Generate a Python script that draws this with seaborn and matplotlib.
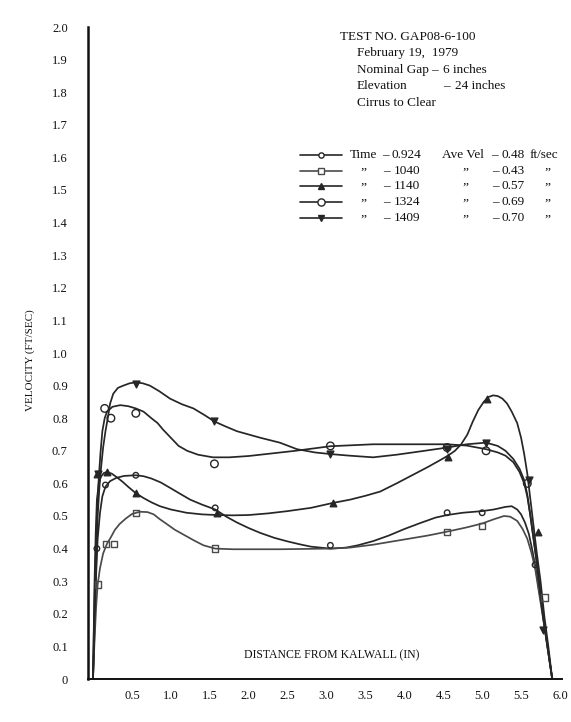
import matplotlib
matplotlib.use("Agg")
import matplotlib.pyplot as plt
import seaborn as sns
import pandas as pd
from matplotlib.lines import Line2D

# ---- test runs -------------------------------------------------------------
times = ["0.924", "1040", "1140", "1324", "1409"]
ave_vel = ["0.48", "0.43", "0.57", "0.69", "0.70"]

# faired velocity profiles across the gap (distance in, velocity ft/sec)
dist_0924 = [0.0, 0.02, 0.04, 0.06, 0.09, 0.12, 0.16, 0.22, 0.30, 0.40, 0.55, 0.65, 0.75,
             0.87, 1.0, 1.12, 1.25, 1.40, 1.57, 1.72, 1.85, 2.0, 2.15, 2.33, 2.5, 2.66, 2.8,
             3.05, 3.25, 3.4, 3.6, 3.8, 4.0, 4.2, 4.4, 4.55, 4.75, 5.0, 5.15, 5.3, 5.38,
             5.45, 5.5, 5.55, 5.6, 5.64, 5.68, 5.72, 5.76, 5.8, 5.85, 5.9]
vel_0924 = [0.0, 0.15, 0.32, 0.43, 0.51, 0.56, 0.59, 0.607, 0.617, 0.623, 0.625, 0.622,
            0.615, 0.603, 0.585, 0.568, 0.55, 0.535, 0.52, 0.497, 0.48, 0.463, 0.448, 0.433,
            0.422, 0.413, 0.406, 0.40, 0.403, 0.41, 0.423, 0.44, 0.46, 0.478, 0.495, 0.503,
            0.51, 0.515, 0.52, 0.528, 0.53, 0.52, 0.505, 0.48, 0.445, 0.40, 0.35, 0.29, 0.23,
            0.16, 0.08, 0.0]

dist_1040 = [0.0, 0.02, 0.04, 0.06, 0.09, 0.13, 0.18, 0.23, 0.28, 0.34, 0.42, 0.50, 0.60,
             0.70, 0.78, 0.86, 0.95, 1.05, 1.17, 1.29, 1.42, 1.57, 1.8, 2.4, 3.05, 3.3, 3.6,
             4.0, 4.3, 4.55, 4.8, 5.0, 5.15, 5.28, 5.36, 5.45, 5.52, 5.58, 5.63, 5.68, 5.72,
             5.76, 5.8, 5.85, 5.9]
vel_1040 = [0.0, 0.12, 0.22, 0.29, 0.34, 0.385, 0.415, 0.435, 0.457, 0.475, 0.492, 0.506,
            0.513, 0.512, 0.505, 0.49, 0.475, 0.458, 0.442, 0.426, 0.41, 0.40, 0.398, 0.398,
            0.40, 0.403, 0.412, 0.428, 0.44, 0.452, 0.465, 0.477, 0.49, 0.50, 0.498, 0.485,
            0.46, 0.43, 0.39, 0.34, 0.28, 0.22, 0.16, 0.08, 0.0]

dist_1140 = [0.0, 0.01, 0.02, 0.035, 0.05, 0.075, 0.10, 0.14, 0.18, 0.24, 0.30, 0.38, 0.45,
             0.55, 0.65, 0.75, 0.86, 1.0, 1.2, 1.4, 1.59, 1.8, 2.0, 2.25, 2.5, 2.8, 3.08,
             3.3, 3.5, 3.69, 3.9, 4.1, 4.3, 4.45, 4.56, 4.65, 4.73, 4.81, 4.88, 4.95, 5.02,
             5.08, 5.14, 5.2, 5.26, 5.32, 5.38, 5.45, 5.5, 5.54, 5.58, 5.62, 5.66, 5.7, 5.75,
             5.8, 5.85, 5.9]
vel_1140 = [0.0, 0.15, 0.30, 0.45, 0.55, 0.60, 0.62, 0.632, 0.635, 0.63, 0.62, 0.605, 0.59,
            0.57, 0.555, 0.542, 0.53, 0.52, 0.51, 0.505, 0.503, 0.502, 0.503, 0.508, 0.515,
            0.525, 0.54, 0.55, 0.562, 0.575, 0.60, 0.625, 0.65, 0.67, 0.685, 0.70, 0.72,
            0.75, 0.79, 0.825, 0.85, 0.865, 0.87, 0.868, 0.86, 0.845, 0.82, 0.785, 0.74,
            0.69, 0.63, 0.55, 0.47, 0.39, 0.30, 0.19, 0.10, 0.0]

dist_1324 = [0.0, 0.015, 0.03, 0.05, 0.07, 0.095, 0.12, 0.15, 0.18, 0.25, 0.35, 0.45, 0.55,
             0.65, 0.75, 0.83, 0.90, 1.0, 1.1, 1.21, 1.35, 1.54, 1.75, 2.0, 2.3, 2.6, 3.05,
             3.6, 4.2, 4.55, 4.8, 5.05, 5.2, 5.3, 5.4, 5.48, 5.54, 5.58, 5.62, 5.66, 5.7,
             5.74, 5.78, 5.84, 5.9]
vel_1324 = [0.0, 0.20, 0.35, 0.50, 0.60, 0.69, 0.76, 0.80, 0.82, 0.835, 0.84, 0.837, 0.83,
            0.82, 0.80, 0.785, 0.765, 0.74, 0.715, 0.70, 0.688, 0.68, 0.68, 0.684, 0.692,
            0.70, 0.714, 0.72, 0.72, 0.72, 0.716, 0.705, 0.695, 0.685, 0.665, 0.635, 0.60,
            0.56, 0.50, 0.43, 0.36, 0.28, 0.20, 0.10, 0.0]

dist_1409 = [0.0, 0.02, 0.04, 0.06, 0.08, 0.10, 0.13, 0.16, 0.19, 0.22, 0.26, 0.32, 0.39,
             0.47, 0.55, 0.64, 0.73, 0.85, 0.99, 1.14, 1.29, 1.43, 1.56, 1.7, 1.85, 2.0,
             2.15, 2.4, 2.62, 2.85, 3.05, 3.3, 3.6, 3.9, 4.2, 4.55, 4.8, 5.05, 5.2, 5.3,
             5.4, 5.48, 5.54, 5.58, 5.62, 5.66, 5.7, 5.74, 5.78, 5.84, 5.9]
vel_1409 = [0.0, 0.18, 0.35, 0.50, 0.58, 0.64, 0.71, 0.76, 0.80, 0.845, 0.875, 0.893, 0.90,
            0.907, 0.91, 0.907, 0.90, 0.883, 0.86, 0.843, 0.83, 0.81, 0.79, 0.775, 0.76,
            0.75, 0.74, 0.725, 0.705, 0.695, 0.69, 0.685, 0.68, 0.688, 0.698, 0.71, 0.72,
            0.725, 0.715, 0.70, 0.675, 0.645, 0.61, 0.565, 0.50, 0.43, 0.36, 0.28, 0.20,
            0.10, 0.0]

# measured points
pt_dist_0924 = [0.05, 0.16, 0.55, 1.57, 3.05, 4.55, 5.0, 5.68]
pt_vel_0924 = [0.40, 0.595, 0.625, 0.525, 0.41, 0.51, 0.51, 0.35]

pt_dist_1040 = [0.06, 0.17, 0.27, 0.55, 1.57, 4.55, 5.0, 5.8]
pt_vel_1040 = [0.29, 0.415, 0.415, 0.51, 0.40, 0.45, 0.47, 0.25]

pt_dist_1140 = [0.05, 0.18, 0.55, 1.59, 3.08, 4.56, 5.06, 5.72]
pt_vel_1140 = [0.63, 0.635, 0.57, 0.51, 0.54, 0.68, 0.86, 0.45]

pt_dist_1324 = [0.15, 0.23, 0.55, 1.56, 3.05, 4.55, 5.05, 5.58]
pt_vel_1324 = [0.83, 0.80, 0.815, 0.66, 0.715, 0.71, 0.70, 0.60]

pt_dist_1409 = [0.06, 0.55, 1.56, 3.05, 4.55, 5.05, 5.6, 5.78]
pt_vel_1409 = [0.63, 0.905, 0.79, 0.69, 0.705, 0.725, 0.61, 0.15]

x_ticks = [0.5, 1.0, 1.5, 2.0, 2.5, 3.0, 3.5, 4.0, 4.5, 5.0, 5.5, 6.0]
x_tick_labels = ["0.5", "1.0", "1.5", "2.0", "2.5", "3.0", "3.5", "4.0", "4.5", "5.0", "5.5", "6.0"]
y_ticks = [round(0.1 * i, 1) for i in range(21)]
y_tick_labels = ["0"] + [f"{v:.1f}" for v in y_ticks[1:]]

# ---- build tidy tables -----------------------------------------------------
curves = pd.concat([
    pd.DataFrame({"dist": d, "vel": v, "run": t})
    for d, v, t in [(dist_0924, vel_0924, times[0]), (dist_1040, vel_1040, times[1]),
                    (dist_1140, vel_1140, times[2]), (dist_1324, vel_1324, times[3]),
                    (dist_1409, vel_1409, times[4])]
], ignore_index=True)
points = pd.concat([
    pd.DataFrame({"dist": d, "vel": v, "run": t})
    for d, v, t in [(pt_dist_0924, pt_vel_0924, times[0]), (pt_dist_1040, pt_vel_1040, times[1]),
                    (pt_dist_1140, pt_vel_1140, times[2]), (pt_dist_1324, pt_vel_1324, times[3]),
                    (pt_dist_1409, pt_vel_1409, times[4])]
], ignore_index=True)

# marker style of each run: (marker, size, filled, line colour)
styles = {
    times[0]: ("o", 16, False, "#262626"),
    times[1]: ("s", 20, False, "#4a4a4a"),
    times[2]: ("^", 22, True, "#262626"),
    times[3]: ("o", 30, False, "#262626"),
    times[4]: ("v", 24, True, "#262626"),
}

sns.set_theme(style="white")
plt.rcParams["font.family"] = ["Liberation Serif", "DejaVu Serif"]
ink = "#111111"

fig = plt.figure(figsize=(5.71, 7.22), dpi=100)
ax = fig.add_axes([88 / 571, 1 - 679 / 722, 474 / 571, 652 / 722])

for run in times:
    mk, sz, filled, col = styles[run]
    c = curves[curves["run"] == run]
    sns.lineplot(data=c, x="dist", y="vel", sort=False, estimator=None,
                 color=col, linewidth=1.25, ax=ax, zorder=2)
    p = points[points["run"] == run]
    sns.scatterplot(data=p, x="dist", y="vel", marker=mk, s=sz,
                    color=col if filled else "none", edgecolor=col,
                    linewidth=1.0, ax=ax, zorder=3)

ax.set_xlim(-5 / 77.83, 6 + 2 / 77.83)
ax.set_ylim(0, 2.0)
ax.set_xticks(x_ticks)
ax.set_xticklabels(x_tick_labels)
ax.set_yticks(y_ticks)
ax.set_yticklabels(y_tick_labels)
ax.tick_params(axis="x", direction="in", length=3, width=1.0, color=ink, pad=8,
               labelsize=9, labelcolor=ink)
ax.tick_params(axis="y", direction="out", length=3, width=1.0, color=ink, pad=11.5,
               labelsize=9, labelcolor=ink)
ax.set_xlabel("")
ax.set_ylabel("")
for s in ["top", "right"]:
    ax.spines[s].set_visible(False)
ax.spines["left"].set_linewidth(1.8)
ax.spines["left"].set_color(ink)
ax.spines["bottom"].set_linewidth(1.4)
ax.spines["bottom"].set_color(ink)
ax.set_facecolor("white")
ax.grid(False)

def px(x, y):
    return x / 571, 1 - y / 722

def put(x, y, s, size=9.5, **kw):
    fig.text(*px(x, y), s, ha=kw.pop("ha", "left"), va="center", fontsize=size,
             color=ink, **kw)

put(30, 360, "VELOCITY (FT/SEC)", size=8, rotation=90, ha="center")
put(332, 655, "DISTANCE FROM KALWALL (IN)", size=8.5, ha="center")

# test description
put(340, 37, "TEST NO. GAP08-6-100")
put(357, 53, "February 19,  1979")
put(357, 70, "Nominal Gap")
put(431, 70, "–")
put(443, 70, "6 inches")
put(357, 86, "Elevation")
put(443, 86, "–")
put(455, 86, "24 inches")
put(357, 103, "Cirrus to Clear")

# key
row_y = [155, 171, 186, 202, 218]
for i, run in enumerate(times):
    mk, sz, filled, col = styles[run]
    y = row_y[i]
    x0, y0 = px(300, y)
    x1, _ = px(342, y)
    xm, _ = px(321, y)
    fig.add_artist(Line2D([x0, x1], [y0, y0], transform=fig.transFigure,
                          color=col, linewidth=1.2))
    fig.add_artist(Line2D([xm], [y0], transform=fig.transFigure, marker=mk,
                          markersize=(sz ** 0.5) * 0.95, linestyle="none",
                          markerfacecolor=col if filled else "white",
                          markeredgecolor=col, markeredgewidth=1.0))
    if i == 0:
        put(350, y, "Time")
        put(382, y, "–")
        put(392, y, times[i])
        put(442, y, "Ave Vel")
        put(491, y, "–")
        put(501, y, ave_vel[i])
        put(530, y, "ft/sec")
    else:
        put(363, y + 2, "\u201d", ha="center")
        put(383, y, "–")
        put(394, y, times[i])
        put(465, y + 2, "\u201d", ha="center")
        put(492, y, "–")
        put(502, y, ave_vel[i])
        put(547, y + 2, "\u201d", ha="center")

fig.savefig("out.png", dpi=100, facecolor="white")
